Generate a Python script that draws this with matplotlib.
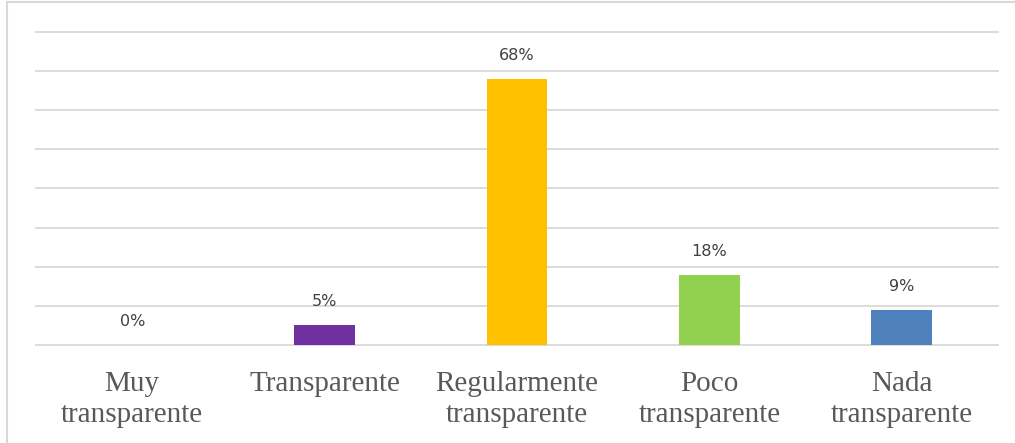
import matplotlib
matplotlib.use("Agg")
import matplotlib.pyplot as plt
from matplotlib.lines import Line2D

categories = ["Muy\ntransparente", "Transparente", "Regularmente\ntransparente",
              "Poco\ntransparente", "Nada\ntransparente"]
values = [0, 5, 68, 18, 9]
labels = ["0%", "5%", "68%", "18%", "9%"]
colors = ["#7030A0", "#7030A0", "#FFC000", "#92D050", "#4F81BD"]

W, H = 1015, 443
fig = plt.figure(figsize=(W / 100, H / 100), dpi=100)
ax = fig.add_axes([36 / W, 1 - 345 / H, (998 - 36) / W, (345 - 32) / H])

x = range(len(categories))
ax.bar(x, values, width=0.317, color=colors, zorder=3)
ax.set_xlim(-0.5, len(categories) - 0.5)
ax.set_ylim(0, 80)
ax.set_yticks(range(0, 81, 10))
ax.yaxis.grid(True, color="#D9D9D9", linewidth=1.3, zorder=0)
for gl in ax.get_ygridlines():
    gl.set_clip_on(False)
ax.tick_params(axis="y", left=False, labelleft=False)
ax.tick_params(axis="x", bottom=False, pad=15)
for s in ax.spines.values():
    s.set_visible(False)
ax.set_xticks(list(x))
ax.set_xticklabels(categories, fontfamily="Liberation Serif", fontsize=21,
                   color="#595959", linespacing=1.28)

for i, (v, t) in enumerate(zip(values, labels)):
    ax.annotate(t, (i, v), xytext=(0, 11.5), textcoords="offset points",
                ha="center", va="bottom", fontsize=11.5, color="#404040",
                fontfamily="DejaVu Sans")

# outer frame (left and top edges visible)
fig.add_artist(Line2D([6.5 / W, 6.5 / W], [0, 1 - 2 / H], transform=fig.transFigure,
                      color="#D9D9D9", linewidth=1.5))
fig.add_artist(Line2D([6.5 / W, 1], [1 - 2 / H, 1 - 2 / H], transform=fig.transFigure,
                      color="#D9D9D9", linewidth=1.5))

fig.savefig("out.png", dpi=100)
